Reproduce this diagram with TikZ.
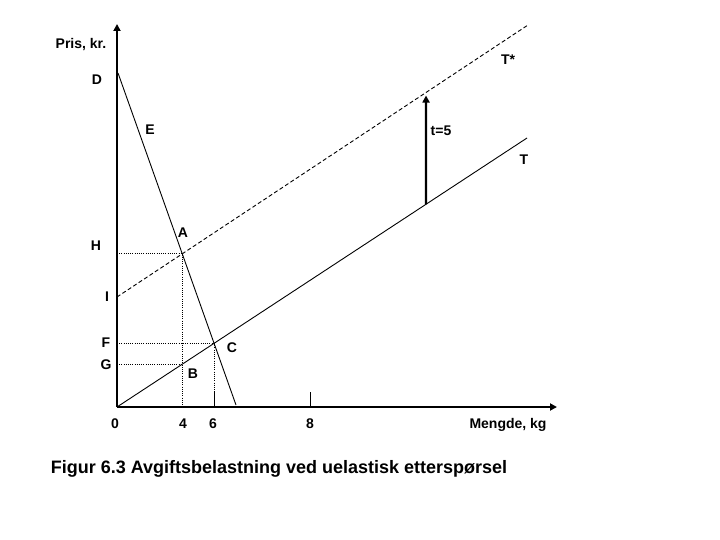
\documentclass[tikz,border=0pt]{standalone}
\usepackage{fontspec}
\setmainfont{Liberation Sans}
\usetikzlibrary{arrows.meta}

\begin{document}
\begin{tikzpicture}[x=1pt, y=-1pt,
  font=\fontsize{14}{16}\selectfont\bfseries,
  axis/.style={line width=2pt, -{Triangle[length=7pt,width=7pt]}},
  curve/.style={line width=0.9pt},
  shifted/.style={line width=0.9pt, dash pattern=on 4pt off 2.5pt},
  guide/.style={line width=0.9pt, dash pattern=on 1pt off 1.2pt},
  tax/.style={line width=2.2pt, shorten >=3pt, -{Triangle[length=7pt,width=7pt]}}]
  \useasboundingbox (0,0) rectangle (720,540);

  \coordinate (O)    at (117,407);
  \coordinate (ytop) at (117,24);
  \coordinate (xend) at (557,407);
  \coordinate (D)    at (118,73);
  \coordinate (Dend) at (236,405);
  \coordinate (I)    at (117,297);
  \coordinate (Tsend) at (528,25);
  \coordinate (Tend) at (527,138);
  \coordinate (A) at (intersection of D--Dend and I--Tsend);
  \coordinate (C) at (intersection of D--Dend and O--Tend);
  \coordinate (B) at (intersection of A--{A|-O} and O--Tend);
  \coordinate (tb) at (intersection of 426,0--426,500 and O--Tend);
  \coordinate (tt) at (intersection of 426,0--426,500 and I--Tsend);
  \coordinate (eight) at (310,407);

  \draw[curve] (D) -- (Dend);
  \draw[curve] (O) -- (Tend);
  \draw[shifted] (I) -- (Tsend);

  \draw[guide] (O|-A) -- (A) -- (A|-O);
  \draw[guide] (O|-C) -- (C) -- (C|-O);
  \draw[guide] (O|-B) -- (B);
  \draw[curve] (C|-O) -- ++(0,-15);
  \draw[curve] (eight) -- ++(0,-15);

  \draw[tax] (tb) -- (tt);

  \draw[axis] (O) -- (ytop);
  \draw[axis] (O) -- (xend);

  \node (pris)   at (81,45)   {Pris, kr.};
  \node (lblTs)  at (508,60)  {T*};
  \node (lblD)   at (97,80)   {D};
  \node (lblE)   at (150,130) {E};
  \node (lblt)   at (441,131) {t=5};
  \node (lblT)   at (524,160) {T};
  \node (lblA)   at (183,233) {A};
  \node (lblH)   at (96,246)  {H};
  \node (lblI)   at (107,297) {I};
  \node (lblF)   at (106,343) {F};
  \node (lblC)   at (232,348) {C};
  \node (lblG)   at (106,365) {G};
  \node (lblB)   at (193,374) {B};
  \node (lbl0)   at (115,424) {0};
  \node (lbl4)   at (183,424) {4};
  \node (lbl6)   at (213,424) {6};
  \node (lbl8)   at (310,424) {8};
  \node (mengde) at (508,425) {Mengde, kg};
  \node[font=\fontsize{18}{21}\selectfont\bfseries] (title) at (279,469)
    {Figur 6.3 Avgiftsbelastning ved uelastisk etterspørsel};
\end{tikzpicture}
\end{document}
